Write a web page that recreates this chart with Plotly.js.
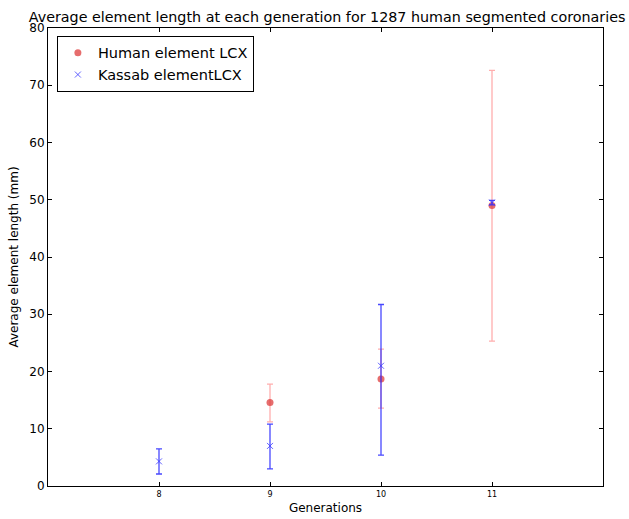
<!DOCTYPE html>
<html>
<head>
<meta charset="utf-8">
<script src="https://cdn.plot.ly/plotly-3.0.1.min.js"></script>
<style>html,body{margin:0;padding:0;background:#fff;}#chart{width:629px;height:519px;}</style>
</head>
<body>
<div id="chart"></div>
<script>
const humanGenerations = [9, 10, 11];
const humanMean = [14.6, 18.7, 49.0];
const humanUpper = [17.8, 23.9, 72.6];
const humanLower = [11.2, 13.6, 25.3];

const kassabGenerations = [8, 9, 10, 11];
const kassabMean = [4.3, 7.0, 21.0, 49.5];
const kassabUpper = [6.5, 10.8, 31.7, 49.9];
const kassabLower = [2.1, 3.0, 5.4, 49.1];

const xTicks = [8, 9, 10, 11];
const yTicks = [0, 10, 20, 30, 40, 50, 60, 70, 80];

const font = "DejaVu Sans, sans-serif";

const traces = [
  {
    x: humanGenerations, y: humanMean, name: "Human element LCX",
    type: "scatter", mode: "markers",
    marker: {symbol: "circle", size: 7, color: "rgba(222,60,60,0.75)"},
    error_y: {type: "data", symmetric: false,
      array: humanUpper.map((u, i) => u - humanMean[i]),
      arrayminus: humanMean.map((m, i) => m - humanLower[i]),
      color: "rgba(255,120,120,0.6)", thickness: 1.3, width: 3}
  },
  {
    x: kassabGenerations, y: kassabMean, name: "Kassab elementLCX",
    type: "scatter", mode: "markers",
    marker: {symbol: "x-thin", size: 6, color: "rgba(60,60,255,0.8)", line: {width: 1, color: "rgba(60,60,255,0.8)"}},
    error_y: {type: "data", symmetric: false,
      array: kassabUpper.map((u, i) => u - kassabMean[i]),
      arrayminus: kassabMean.map((m, i) => m - kassabLower[i]),
      color: "rgba(40,40,255,0.85)", thickness: 1.3, width: 3}
  }
];

const layout = {
  width: 629, height: 519,
  margin: {l: 48, r: 26, t: 28, b: 33},
  paper_bgcolor: "#fff", plot_bgcolor: "#fff",
  font: {family: font, color: "#000"},
  title: {text: "Average element length at each generation for 1287 human segmented coronaries",
    font: {family: font, size: 14.3, color: "#000"}, x: 0.52, xanchor: "center", y: 0.967, yanchor: "middle"},
  xaxis: {
    range: [7, 12], tickvals: xTicks, ticktext: xTicks.map(String),
    ticks: "inside", ticklen: 4, tickcolor: "#000", tickwidth: 1,
    showline: true, linecolor: "#000", linewidth: 1, mirror: "allticks",
    showgrid: false, zeroline: false,
    tickfont: {size: 8, family: font},
    title: {text: "Generations", font: {size: 12, family: font}, standoff: 6}
  },
  yaxis: {
    range: [0, 80], tickvals: yTicks, ticktext: yTicks.map(String),
    ticks: "inside", ticklen: 4, tickcolor: "#000", tickwidth: 1,
    showline: true, linecolor: "#000", linewidth: 1, mirror: "allticks",
    showgrid: false, zeroline: false,
    tickfont: {size: 12, family: font},
    title: {text: "Average element length (mm)", font: {size: 12, family: font}, standoff: 8}
  },
  legend: {x: 0.016, y: 0.983, xanchor: "left", yanchor: "top",
    bgcolor: "#fff", bordercolor: "#000", borderwidth: 1,
    font: {size: 14.5, family: font}, tracegroupgap: 0, itemwidth: 30},
  showlegend: true
};

Plotly.newPlot("chart", traces, layout, {displayModeBar: false, staticPlot: true});
</script>
</body>
</html>
